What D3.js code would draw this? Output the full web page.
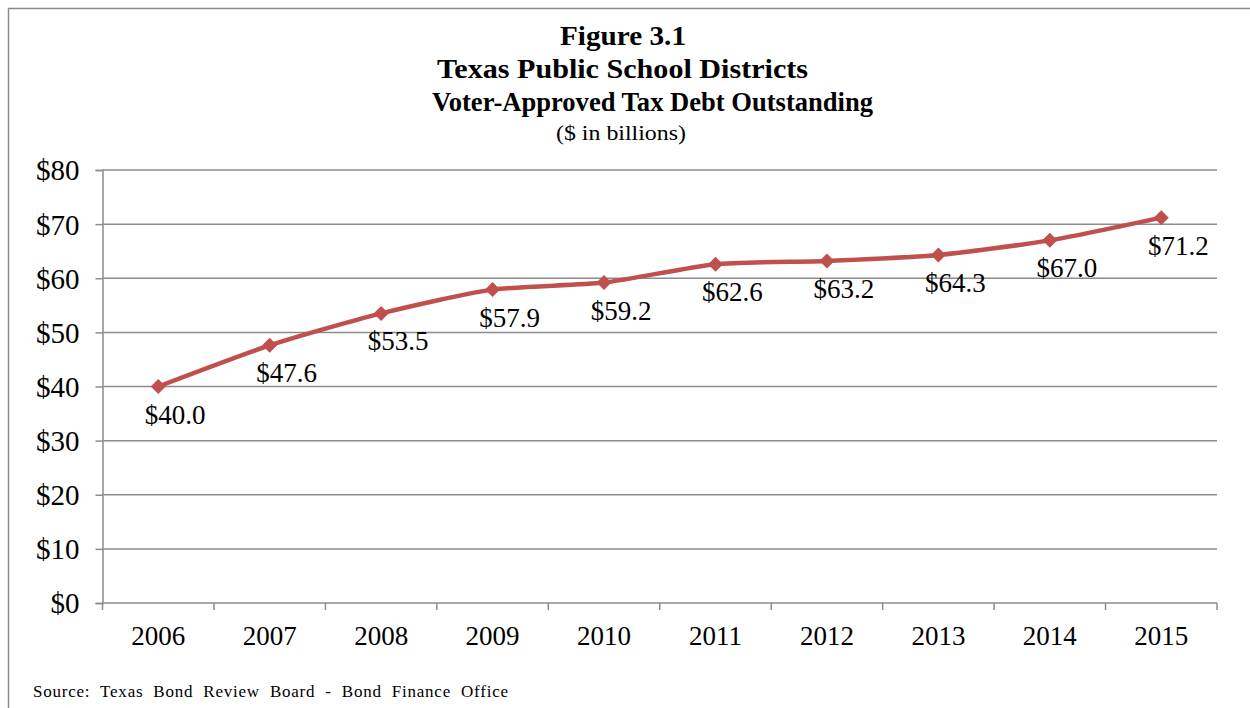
<!DOCTYPE html>
<html>
<head>
<meta charset="utf-8">
<script src="https://cdn.jsdelivr.net/npm/d3@7"></script>
<style>
  html, body { margin: 0; padding: 0; background: #fff; overflow: hidden; }
  svg { display: block; }
  svg text { font-family: "Liberation Serif", "DejaVu Serif", serif; fill: #000; }
</style>
</head>
<body>
<svg id="chart" width="1250" height="708"></svg>
<script>
// Voter-approved tax debt outstanding, $ billions
const years = ["2006", "2007", "2008", "2009", "2010", "2011", "2012", "2013", "2014", "2015"];
const debt = [40.0, 47.6, 53.5, 57.9, 59.2, 62.6, 63.2, 64.3, 67.0, 71.2];
const yTicks = [0, 10, 20, 30, 40, 50, 60, 70, 80];
const titleLines = ["Figure 3.1", "Texas Public School Districts", "Voter-Approved Tax Debt Outstanding"];
const subtitle = "($ in billions)";
const sourceNote = "Source:  Texas  Bond  Review  Board  -  Bond  Finance  Office";

const svg = d3.select("#chart");
const W = 1250, H = 708;
const plot = { left: 102.5, right: 1217, top: 170, bottom: 603 };
const lineColor = "#C0504D";
const gridColor = "#8c8c8c";
const serif = "'Liberation Serif', 'DejaVu Serif', serif";

// outer frame (runs off the right and bottom edges)
svg.append("rect")
  .attr("x", 8.5).attr("y", 8.5)
  .attr("width", W + 20).attr("height", H + 20)
  .attr("fill", "none").attr("stroke", "#8c8c8c").attr("stroke-width", 1.5);

// titles
const titleX = [623, 622.5, 652.5];
const titleY = [45, 78, 111];
const titleW = [126, 371, 441];
titleLines.forEach((t, i) => {
  svg.append("text")
    .attr("x", titleX[i]).attr("y", titleY[i])
    .attr("text-anchor", "middle")
    .attr("font-family", serif)
    .attr("font-size", 28).attr("font-weight", "bold")
    .attr("textLength", titleW[i]).attr("lengthAdjust", "spacingAndGlyphs")
    .text(t);
});
svg.append("text")
  .attr("x", 621).attr("y", 140)
  .attr("text-anchor", "middle")
  .attr("font-family", serif)
  .attr("font-size", 22)
  .attr("textLength", 130).attr("lengthAdjust", "spacingAndGlyphs")
  .text(subtitle);

// scales
const x = d3.scaleBand().domain(years).range([plot.left, plot.right]).padding(0);
const y = d3.scaleLinear().domain([0, 80]).range([plot.bottom, plot.top]);

// horizontal gridlines
svg.append("g")
  .selectAll("line")
  .data(yTicks.filter(v => v > 0))
  .join("line")
  .attr("x1", plot.left).attr("x2", plot.right)
  .attr("y1", d => y(d)).attr("y2", d => y(d))
  .attr("stroke", gridColor).attr("stroke-width", 1.5);

// y axis
const yAxis = svg.append("g")
  .attr("transform", `translate(${plot.left},0)`)
  .call(d3.axisLeft(y).tickValues(yTicks).tickSize(7).tickPadding(16)
    .tickFormat(d => "$" + d));
yAxis.attr("font-family", serif).attr("font-size", 29);
yAxis.select(".domain").attr("stroke", gridColor).attr("stroke-width", 1.5);
yAxis.selectAll(".tick line").attr("stroke", gridColor).attr("stroke-width", 1.5);
yAxis.selectAll(".tick text").attr("fill", "#000").attr("dy", "0.34em");

// x axis with ticks at category boundaries
const xAxis = svg.append("g")
  .attr("transform", `translate(0,${plot.bottom})`)
  .call(d3.axisBottom(x).tickSize(0).tickPadding(23));
xAxis.attr("font-family", serif).attr("font-size", 27);
xAxis.select(".domain").remove();
xAxis.selectAll(".tick text").attr("fill", "#000");
svg.append("line")
  .attr("x1", plot.left).attr("x2", plot.right)
  .attr("y1", plot.bottom).attr("y2", plot.bottom)
  .attr("stroke", gridColor).attr("stroke-width", 1.5);
const bounds = years.map(d => x(d)).concat([x(years[years.length - 1]) + x.bandwidth()]);
svg.append("g")
  .selectAll("line")
  .data(bounds)
  .join("line")
  .attr("x1", d => d).attr("x2", d => d)
  .attr("y1", plot.bottom).attr("y2", plot.bottom + 7)
  .attr("stroke", gridColor).attr("stroke-width", 1.5);

// series
const pts = years.map((yr, i) => ({ yr, v: debt[i] }));
const cx = d => x(d.yr) + x.bandwidth() / 2;
const line = d3.line().x(cx).y(d => y(d.v)).curve(d3.curveCardinal.tension(0.35));
svg.append("path")
  .datum(pts)
  .attr("d", line)
  .attr("fill", "none")
  .attr("stroke", lineColor)
  .attr("stroke-width", 4.5)
  .attr("stroke-linejoin", "round");

// diamond markers
svg.append("g")
  .selectAll("path")
  .data(pts)
  .join("path")
  .attr("transform", d => `translate(${cx(d)},${y(d.v)})`)
  .attr("d", "M0,-7.5L7.5,0L0,7.5L-7.5,0Z")
  .attr("fill", lineColor);

// value labels
svg.append("g")
  .attr("font-family", serif)
  .attr("font-size", 27)
  .selectAll("text")
  .data(pts)
  .join("text")
  .attr("x", d => cx(d) + 17)
  .attr("y", d => y(d.v) + 37)
  .attr("text-anchor", "middle")
  .text(d => "$" + d.v.toFixed(1));

// source note
svg.append("text")
  .attr("x", 33).attr("y", 697)
  .attr("font-family", serif)
  .attr("font-size", 17)
  .attr("textLength", 475).attr("lengthAdjust", "spacing")
  .style("white-space", "pre")
  .text(sourceNote);
</script>
</body>
</html>
